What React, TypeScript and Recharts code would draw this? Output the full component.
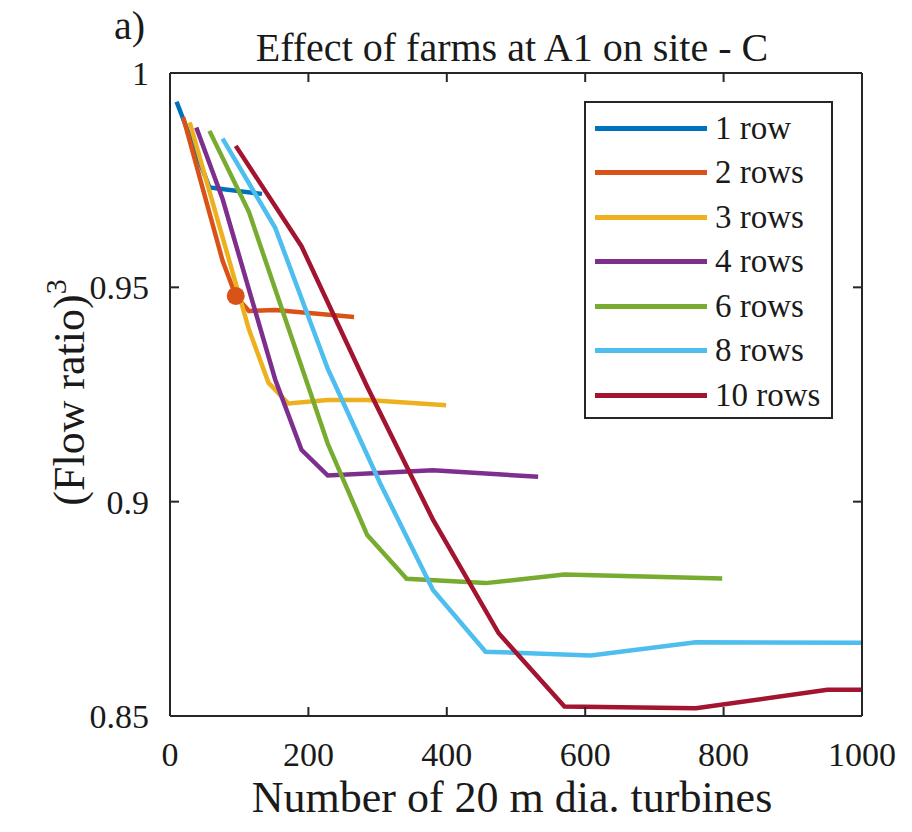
import { ComposedChart, Line, Scatter, XAxis, YAxis, Legend } from 'recharts';

const FONT = "'Liberation Serif', 'DejaVu Serif', Tinos, serif";
const INK = '#1a1a1a';
const AXIS = '#262626';

const xTicks = [0, 200, 400, 600, 800, 1000];
const yTicks = [0.85, 0.9, 0.95, 1];

// number of turbines vs (flow ratio)^3
const row1 = [
  { x: 9.5, y: 0.9933 }, { x: 57, y: 0.9733 }, { x: 133, y: 0.9718 },
];
const row2 = [
  { x: 19, y: 0.9897 }, { x: 76, y: 0.9562 }, { x: 95, y: 0.948 },
  { x: 114, y: 0.9445 }, { x: 152, y: 0.9447 }, { x: 266, y: 0.9431 },
];
const row3 = [
  { x: 28.5, y: 0.9885 }, { x: 114, y: 0.9402 }, { x: 142.5, y: 0.9277 },
  { x: 171, y: 0.9229 }, { x: 228, y: 0.9237 }, { x: 285, y: 0.9237 },
  { x: 399, y: 0.9225 },
];
const row4 = [
  { x: 38, y: 0.9873 }, { x: 76, y: 0.9706 }, { x: 152, y: 0.9285 },
  { x: 190, y: 0.9121 }, { x: 228, y: 0.9061 }, { x: 380, y: 0.9073 },
  { x: 532, y: 0.9058 },
];
const row6 = [
  { x: 57, y: 0.9865 }, { x: 114, y: 0.9676 }, { x: 228, y: 0.9135 },
  { x: 285, y: 0.8922 }, { x: 342, y: 0.882 }, { x: 456, y: 0.881 },
  { x: 570, y: 0.883 }, { x: 798, y: 0.8821 },
];
const row8 = [
  { x: 76, y: 0.9847 }, { x: 152, y: 0.9639 }, { x: 228, y: 0.931 },
  { x: 304, y: 0.9042 }, { x: 380, y: 0.8794 }, { x: 456, y: 0.865 },
  { x: 608, y: 0.8641 }, { x: 760, y: 0.8672 }, { x: 1000, y: 0.8671 },
];
const row10 = [
  { x: 95, y: 0.983 }, { x: 190, y: 0.9596 }, { x: 285, y: 0.9268 },
  { x: 380, y: 0.8958 }, { x: 475, y: 0.8693 }, { x: 570, y: 0.8522 },
  { x: 760, y: 0.8518 }, { x: 950, y: 0.8561 }, { x: 1000, y: 0.8561 },
];
const marked = [{ x: 95, y: 0.948 }];

const series = [
  { name: '1 row', color: '#0072BD', data: row1 },
  { name: '2 rows', color: '#D95319', data: row2 },
  { name: '3 rows', color: '#EDB120', data: row3 },
  { name: '4 rows', color: '#7E2F8E', data: row4 },
  { name: '6 rows', color: '#77AC30', data: row6 },
  { name: '8 rows', color: '#4DBEEE', data: row8 },
  { name: '10 rows', color: '#A2142F', data: row10 },
];

const noLabel = () => <g />;

const renderLegend = () => (
  <div
    style={{
      width: 249, height: 318, boxSizing: 'border-box', border: `2px solid ${AXIS}`,
      background: '#fff', paddingTop: 3, fontFamily: FONT,
    }}
  >
    {series.map((s) => (
      <div key={s.name} style={{ height: 44.5, display: 'flex', alignItems: 'center' }}>
        <div style={{ marginLeft: 9, width: 112, height: 5, background: s.color }} />
        <span style={{ marginLeft: 8, fontSize: 33, color: INK, lineHeight: 1 }}>{s.name}</span>
      </div>
    ))}
  </div>
);

const XLabel = ({ viewBox }: any) => (
  <text x={viewBox.x + viewBox.width / 2 - 4} y={viewBox.y + 96} textAnchor="middle"
    fontSize={44} fill={INK} style={{ fontFamily: FONT }}>
    Number of 20 m dia. turbines
  </text>
);

const YLabel = ({ viewBox }: any) => {
  const x = 76;
  const y = viewBox.y + viewBox.height / 2 - 2;
  return (
    <text x={x} y={y} transform={`rotate(-90, ${x}, ${y})`} textAnchor="middle"
      fontSize={44} fill={INK} style={{ fontFamily: FONT }}>
      (Flow ratio)<tspan fontSize={30} dy={-18}>3</tspan>
    </text>
  );
};

export default function App() {
  const axisLine = { stroke: AXIS, strokeWidth: 2 };
  const tickLine = { stroke: AXIS, strokeWidth: 2 };
  const tickStyle = { fontSize: 34, fill: INK, style: { fontFamily: FONT } };

  return (
    <div style={{ position: 'relative', width: 896, height: 816, background: '#fff', fontFamily: FONT }}>
      <div style={{ position: 'absolute', left: 106, top: -2, fontSize: 40, lineHeight: '40px', color: INK }}>
        a)
      </div>
      <div style={{
        position: 'absolute', left: 104, width: 800, top: 20, textAlign: 'center',
        fontSize: 40, lineHeight: '40px', color: INK,
      }}>
        Effect of farms at A1 on site - C
      </div>
      <ComposedChart width={896} height={816} margin={{ top: 64, right: 41, bottom: 48, left: 102 }}
        style={{ fontFamily: FONT }}>
        <XAxis xAxisId="b" type="number" dataKey="x" domain={[0, 1000]} allowDataOverflow
          ticks={xTicks} interval={0} height={60} tickSize={-9} tickMargin={35}
          axisLine={axisLine} tickLine={tickLine} tick={tickStyle} label={<XLabel />} />
        <XAxis xAxisId="t" orientation="top" type="number" dataKey="x" domain={[0, 1000]} allowDataOverflow
          ticks={xTicks} interval={0} height={1} tickSize={-9}
          axisLine={axisLine} tickLine={tickLine} tick={noLabel} />
        <YAxis yAxisId="l" type="number" domain={[0.85, 1]} allowDataOverflow
          ticks={yTicks} interval={0} width={60} tickSize={-9} tickMargin={30}
          axisLine={axisLine} tickLine={tickLine} tick={tickStyle} label={<YLabel />} />
        <YAxis yAxisId="r" orientation="right" type="number" domain={[0.85, 1]} allowDataOverflow
          ticks={yTicks} interval={0} width={1} tickSize={-9}
          axisLine={axisLine} tickLine={tickLine} tick={noLabel} />
        {series.map((s) => (
          <Line key={s.name} xAxisId="b" yAxisId="l" data={s.data} dataKey="y" name={s.name}
            type="linear" stroke={s.color} strokeWidth={4.5} dot={false} activeDot={false}
            isAnimationActive={false} />
        ))}
        <Scatter xAxisId="b" yAxisId="l" data={marked} dataKey="y" legendType="none"
          isAnimationActive={false}
          shape={(p: any) => <circle cx={p.cx} cy={p.cy} r={9} fill="#D95319" />} />
        <Legend layout="vertical" align="center" verticalAlign="middle" content={renderLegend}
          wrapperStyle={{ left: 576, top: 93, width: 249, height: 318 }} />
      </ComposedChart>
    </div>
  );
}
